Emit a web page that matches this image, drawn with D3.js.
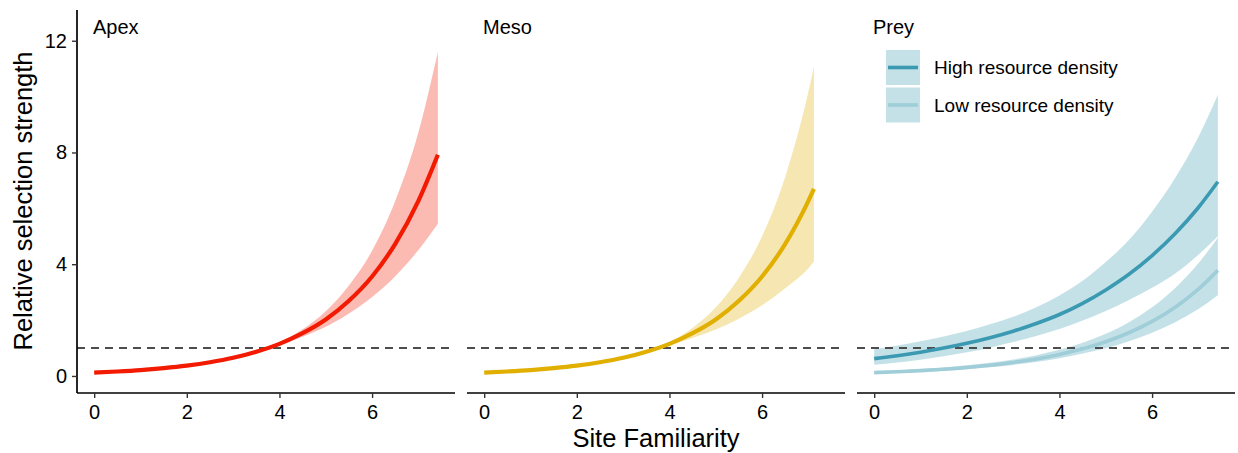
<!DOCTYPE html>
<html>
<head>
<meta charset="utf-8">
<script src="https://cdn.jsdelivr.net/npm/d3@7"></script>
<style>
  body { margin: 0; background: #fff; }
  text { font-family: 'Liberation Sans', Arial, sans-serif; fill: #000; }
</style>
</head>
<body>
<svg width="1238" height="453"></svg>
<script>
// values
let panelNames = ['Apex', 'Meso', 'Prey'];
let xTicks = [0, 2, 4, 6];
let yTicks = [0, 4, 8, 12];

let apexX = [0, 0.5, 1, 1.5, 2, 2.5, 3, 3.5, 4, 4.5, 5, 5.5, 6, 6.5, 7, 7.42];
let apexFit = [0.12, 0.16, 0.21, 0.28, 0.37, 0.49, 0.65, 0.87, 1.15, 1.53, 2.02, 2.69, 3.56, 4.73, 6.27, 7.92];
let apexLo = [0.107, 0.145, 0.19, 0.26, 0.345, 0.46, 0.62, 0.84, 1.10, 1.40, 1.76, 2.24, 2.83, 3.57, 4.51, 5.45];
let apexHi = [0.134, 0.177, 0.23, 0.30, 0.40, 0.52, 0.68, 0.91, 1.20, 1.67, 2.32, 3.24, 4.48, 6.26, 8.72, 11.6];

let mesoX = [0, 0.5, 1, 1.5, 2, 2.5, 3, 3.5, 4, 4.5, 5, 5.5, 6, 6.5, 7, 7.12];
let mesoFit = [0.12, 0.16, 0.21, 0.28, 0.37, 0.49, 0.65, 0.87, 1.15, 1.53, 2.02, 2.69, 3.56, 4.73, 6.27, 6.70];
let mesoLo = [0.107, 0.145, 0.19, 0.26, 0.345, 0.46, 0.62, 0.84, 1.09, 1.36, 1.66, 2.05, 2.53, 3.14, 3.86, 4.10];
let mesoHi = [0.134, 0.177, 0.23, 0.30, 0.40, 0.52, 0.68, 0.91, 1.21, 1.73, 2.46, 3.52, 5.00, 7.13, 10.18, 11.09];

let preyX = [0, 0.5, 1, 1.5, 2, 2.5, 3, 3.5, 4, 4.5, 5, 5.5, 6, 6.5, 7, 7.42];
let preyHighFit = [0.62, 0.726, 0.851, 0.997, 1.168, 1.368, 1.603, 1.878, 2.20, 2.60, 3.08, 3.64, 4.31, 5.10, 6.03, 6.95];
let preyHighLo = [0.40, 0.482, 0.582, 0.703, 0.848, 1.014, 1.212, 1.433, 1.679, 1.985, 2.328, 2.723, 3.159, 3.667, 4.34, 5.0];
let preyHighHi = [0.96, 1.094, 1.244, 1.415, 1.608, 1.847, 2.121, 2.460, 2.882, 3.406, 4.075, 4.863, 5.875, 7.094, 8.557, 10.07];
let preyLowFit = [0.12, 0.151, 0.191, 0.241, 0.304, 0.383, 0.484, 0.610, 0.770, 0.972, 1.226, 1.547, 1.952, 2.463, 3.108, 3.78];
let preyLowLo = [0.09, 0.115, 0.147, 0.19, 0.243, 0.31, 0.396, 0.50, 0.637, 0.80, 0.994, 1.242, 1.550, 1.927, 2.396, 2.89];
let preyLowHi = [0.155, 0.195, 0.245, 0.305, 0.38, 0.472, 0.59, 0.745, 0.935, 1.187, 1.513, 1.927, 2.457, 3.148, 4.031, 4.95];

let legendLabels = ['High resource density', 'Low resource density'];

(function() {
  let svg = d3.select('svg');

  let panelLeft = [77, 467, 857],
      panelW = 378,
      top = 10,
      bottom = 393;

  let y = d3.scaleLinear().domain([-0.61, 13.1]).range([bottom, top]);

  function rows(xs, fit, lo, hi) {
    return xs.map(function(x, i) {
      return { x: x, fit: fit[i], lo: lo[i], hi: hi[i] };
    });
  }

  let series = [
    [{ d: rows(apexX, apexFit, apexLo, apexHi), line: '#F21A00', band: '#F21A00', w: 4.2 }],
    [{ d: rows(mesoX, mesoFit, mesoLo, mesoHi), line: '#E1AF00', band: '#E1AF00', w: 4.2 }],
    [{ d: rows(preyX, preyHighFit, preyHighLo, preyHighHi), line: '#3B9AB2', band: '#3B9AB2', w: 3.6 },
     { d: rows(preyX, preyLowFit, preyLowLo, preyLowHi), line: '#9FCDD8', band: '#3B9AB2', w: 3.6 }]
  ];

  panelNames.forEach(function(name, p) {
    let left = panelLeft[p];
    let x = d3.scaleLinear().domain([-0.371, 7.79]).range([left, left + panelW]);
    let g = svg.append('g').attr('class', 'panel');

    // ribbons
    series[p].forEach(function(s) {
      let area = d3.area()
        .x(function(d) { return x(d.x); })
        .y0(function(d) { return y(d.lo); })
        .y1(function(d) { return y(d.hi); })
        .curve(d3.curveMonotoneX);
      g.append('path')
        .datum(s.d)
        .attr('d', area)
        .attr('fill', s.band)
        .attr('fill-opacity', 0.3);
    });

    // reference line at 1
    g.append('line')
      .attr('x1', left).attr('x2', left + panelW)
      .attr('y1', y(1)).attr('y2', y(1))
      .attr('stroke', '#4d4d4d')
      .attr('stroke-width', 2)
      .attr('stroke-dasharray', '8,6');

    // fitted lines
    series[p].forEach(function(s) {
      let line = d3.line()
        .x(function(d) { return x(d.x); })
        .y(function(d) { return y(d.fit); })
        .curve(d3.curveMonotoneX);
      g.append('path')
        .datum(s.d)
        .attr('d', line)
        .attr('fill', 'none')
        .attr('stroke', s.line)
        .attr('stroke-width', s.w);
    });

    // x axis
    let xAxis = g.append('g')
      .attr('transform', 'translate(0,' + bottom + ')')
      .call(d3.axisBottom(x).tickValues(xTicks).tickSize(5).tickPadding(7));
    xAxis.select('.domain').attr('stroke', '#000').attr('stroke-width', 1.7)
      .attr('d', 'M' + left + ',0H' + (left + panelW));
    xAxis.selectAll('.tick line').attr('stroke', '#333').attr('stroke-width', 1.4);
    xAxis.selectAll('.tick text')
      .attr('font-size', 20).attr('fill', '#1a1a1a')
      .style('font-family', "'Liberation Sans', Arial, sans-serif");

    if (p === 0) {
      let yAxis = g.append('g')
        .attr('transform', 'translate(' + left + ',0)')
        .call(d3.axisLeft(y).tickValues(yTicks).tickSize(5).tickPadding(5));
      yAxis.select('.domain').attr('stroke', '#000').attr('stroke-width', 1.7)
        .attr('d', 'M0,' + top + 'V' + bottom);
      yAxis.selectAll('.tick line').attr('stroke', '#333').attr('stroke-width', 1.4);
      yAxis.selectAll('.tick text')
        .attr('font-size', 20).attr('fill', '#1a1a1a')
        .style('font-family', "'Liberation Sans', Arial, sans-serif");
    }

    g.append('text')
      .attr('x', left + 16)
      .attr('y', 34)
      .attr('font-size', 20)
      .text(name);
  });

  // legend inside the Prey panel
  let legend = svg.append('g').attr('transform', 'translate(886,50)');
  let keyColors = ['#3B9AB2', '#9FCDD8'];
  legendLabels.forEach(function(label, i) {
    let ky = i * 37.5;
    legend.append('rect')
      .attr('x', 0).attr('y', ky)
      .attr('width', 34).attr('height', 35)
      .attr('fill', '#3B9AB2').attr('fill-opacity', 0.3);
    legend.append('line')
      .attr('x1', 2).attr('x2', 32)
      .attr('y1', ky + 17.5).attr('y2', ky + 17.5)
      .attr('stroke', keyColors[i])
      .attr('stroke-width', 3.6);
    legend.append('text')
      .attr('x', 48)
      .attr('y', ky + 17.5)
      .attr('dy', '0.35em')
      .attr('font-size', 19)
      .attr('fill', '#111')
      .text(label);
  });

  // axis titles
  svg.append('text')
    .attr('x', 656)
    .attr('y', 447)
    .attr('text-anchor', 'middle')
    .attr('font-size', 25.5)
    .text('Site Familiarity');

  svg.append('text')
    .attr('transform', 'translate(32,201) rotate(-90)')
    .attr('text-anchor', 'middle')
    .attr('font-size', 25.5)
    .text('Relative selection strength');
})();
</script>
</body>
</html>
